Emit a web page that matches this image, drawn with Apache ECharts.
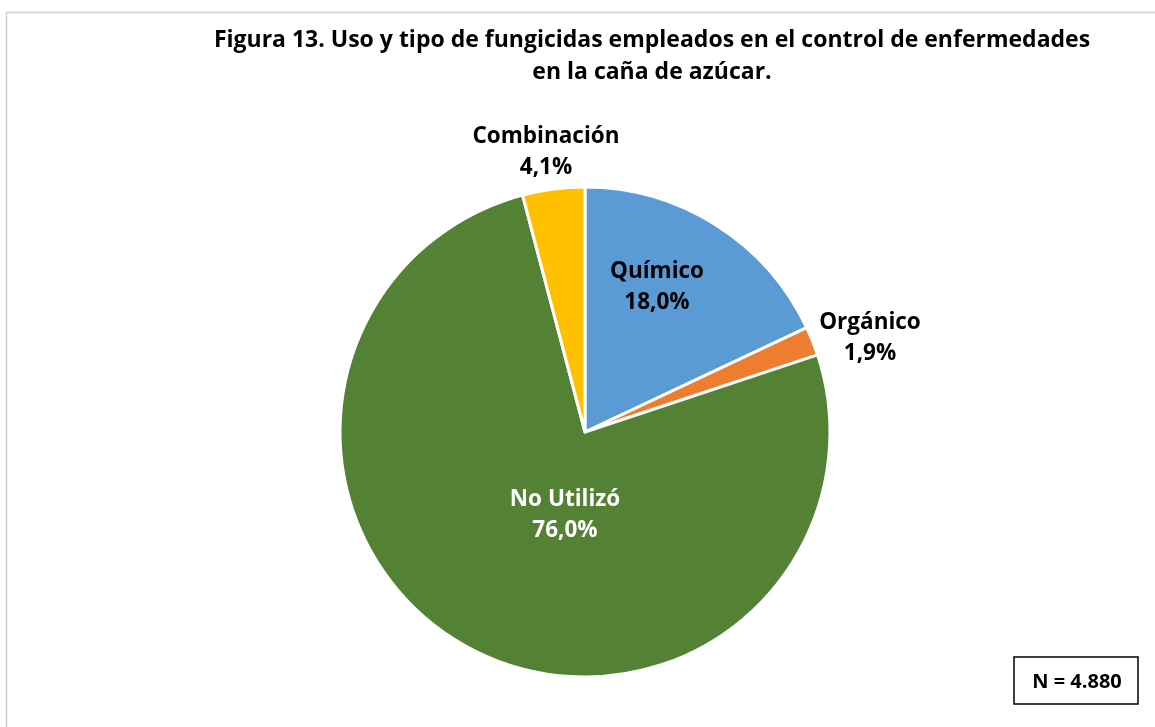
<!DOCTYPE html>
<html>
<head>
<meta charset="utf-8">
<script src="https://cdn.jsdelivr.net/npm/echarts@6/dist/echarts.min.js"></script>
<style>
  html, body { margin: 0; padding: 0; background: #fff; }
  #myChart { width: 1155px; height: 727px; }
</style>
</head>
<body>
<div id="myChart"></div>
<script>
// datos del gráfico
var categorias = ["Químico", "Orgánico", "No Utilizó", "Combinación"];
var porcentajes = [18.0, 1.9, 76.0, 4.1];
var colores = ["#5B9BD5", "#ED7D31", "#548235", "#FFC000"];
var coloresTexto = ["#000000", "#000000", "#ffffff", "#000000"];
var tituloLineas = ["Figura 13. Uso y tipo de fungicidas empleados en el control de enfermedades", "en la caña de azúcar."];
var totalN = "N = 4.880";

// posiciones de las etiquetas (centro del texto)
var posEtiquetas = [[657, 287], [870, 338], [565, 515], [546, 152]];

var fuente = "'Open Sans', sans-serif";
var myChart = echarts.init(document.getElementById("myChart"));

var datos = categorias.map(function (c, i) {
  return {
    name: c,
    value: porcentajes[i],
    itemStyle: { color: colores[i] },
    label: { color: coloresTexto[i] }
  };
});

myChart.setOption({
  animation: false,
  backgroundColor: "#ffffff",
  title: {
    text: tituloLineas.join("\n"),
    left: 647,
    top: 19,
    textAlign: "center",
    textStyle: {
      fontFamily: fuente,
      fontWeight: "bold",
      fontSize: 23,
      lineHeight: 32,
      color: "#000"
    }
  },
  graphic: [
    {
      type: "rect",
      shape: { x: 6.5, y: 12.5, width: 1160, height: 730 },
      style: { fill: "none", stroke: "#d0d4cc", lineWidth: 1.5 },
      silent: true
    },
    {
      type: "rect",
      shape: { x: 1014, y: 657, width: 124, height: 47 },
      style: { fill: "#fff", stroke: "#000", lineWidth: 1.5 }
    },
    {
      type: "text",
      x: 1077,
      y: 682,
      style: {
        text: totalN,
        fontFamily: fuente,
        fontWeight: "bold",
        fontSize: 20,
        fill: "#000",
        align: "center",
        verticalAlign: "middle"
      }
    }
  ],
  series: [
    {
      type: "pie",
      center: [585, 432],
      radius: [0, 245],
      startAngle: 90,
      clockwise: true,
      itemStyle: { borderColor: "#fff", borderWidth: 3 },
      label: {
        show: true,
        position: "inside",
        fontFamily: fuente,
        fontWeight: "bold",
        fontSize: 22.5,
        lineHeight: 31,
        formatter: function (p) {
          return p.name + "\n" + p.value.toFixed(1).replace(".", ",") + "%";
        }
      },
      labelLine: { show: false },
      labelLayout: function (params) {
        var p = posEtiquetas[params.dataIndex];
        return { x: p[0], y: p[1], align: "center", verticalAlign: "middle" };
      },
      data: datos
    }
  ]
});
</script>
</body>
</html>
